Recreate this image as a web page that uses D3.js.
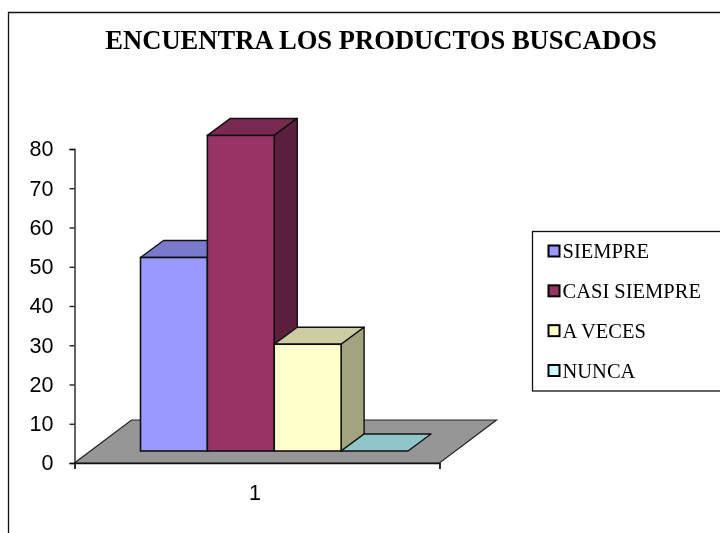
<!DOCTYPE html>
<html><head><meta charset="utf-8">
<script src="https://cdn.jsdelivr.net/npm/d3@7"></script>
<style>html,body{margin:0;background:#fff}svg{display:block;filter:blur(0.35px)}</style></head>
<body><svg id="c" width="720" height="533"></svg>
<script>
const titleText = "ENCUENTRA LOS PRODUCTOS BUSCADOS";
const seriesNames = ["SIEMPRE","CASI SIEMPRE","A VECES","NUNCA"];
const seriesValues = [49.3,80.4,27.2,0];
const yTicks = [0,10,20,30,40,50,60,70,80];
const categoryLabels = ["1"];
const frontColors = ["#9999FF","#993366","#FFFFCC","#CCFFFF"];
const topColors = ["#7A7ACC","#7A2952","#CCCCA3","#8FC6C9"];
const sideColors = ["#6B6BB3","#5C1F3D","#A3A37F","#8FC6C9"];

const svg = d3.select("#c");
const y = d3.scaleLinear().domain([0,80]).range([463,149]);
const xAxisScale = d3.scaleLinear().domain([0,1]).range([74.5,439.5]);
const catScale = d3.scalePoint().domain(categoryLabels).range([255,255]);
const floorDx = 57, floorDy = 43;
const offY = 12;   // front plane of the bars relative to the axes
const depthX = 23, depthY = 17;
const x = d3.scaleBand().domain(seriesNames).range([140.5,408]);
const stroke = "#111";

// chart frame (open on right and bottom, as cropped in the source)
svg.append("path").attr("d","M8.5,533V12.5H720").attr("fill","none").attr("stroke","#111").attr("stroke-width",1.3);

svg.append("text").attr("x",381).attr("y",48.5).attr("text-anchor","middle")
  .attr("font-family","'Liberation Serif',serif").attr("font-weight","bold").attr("font-size",26.6)
  .attr("fill","#000").text(titleText);

// floor
const x0 = xAxisScale(0), x1 = xAxisScale(1), yb = y(0);
svg.append("polygon")
  .attr("points",[[x0,yb],[x1,yb],[x1+floorDx,yb-floorDy],[x0+floorDx,yb-floorDy]].join(" "))
  .attr("fill","#969696").attr("stroke","#222").attr("stroke-width",1.2);

// axes
const yAxis = svg.append("g").attr("transform",`translate(${x0},0)`)
  .call(d3.axisLeft(y).tickValues(yTicks).tickSize(5).tickPadding(16));
yAxis.selectAll("text").attr("font-family","'Liberation Sans',sans-serif").attr("font-size",21.5).attr("fill","#000");
yAxis.selectAll("path,line").attr("stroke","#111").attr("stroke-width",1.3);

const xAxis = svg.append("g").attr("transform",`translate(0,${yb})`)
  .call(d3.axisBottom(xAxisScale).tickValues([0,1]).tickSize(6).tickFormat(""));
xAxis.selectAll("path,line").attr("stroke","#111").attr("stroke-width",1.3);
svg.selectAll(null).data(categoryLabels).join("text")
  .attr("x",d=>catScale(d)).attr("y",499.5).attr("text-anchor","middle")
  .attr("font-family","'Liberation Sans',sans-serif").attr("font-size",21.5).attr("fill","#000").text(d=>d);

// 3D bars, drawn left to right
const base = yb-offY;
const bars = svg.selectAll("g.bar").data(seriesNames).join("g").attr("class","bar");
bars.each(function(name,i){
  const g = d3.select(this), v = seriesValues[i];
  const l = x(name), r = l+x.bandwidth(), t = y(v)-offY;
  const dx = depthX, dy = depthY;
  g.append("polygon").attr("points",[[l,t],[r,t],[r+dx,t-dy],[l+dx,t-dy]].join(" "))
   .attr("fill",topColors[i]).attr("stroke",stroke).attr("stroke-width",1.4).attr("stroke-linejoin","round");
  if(v>0){
    g.append("polygon").attr("points",[[r,t],[r+dx,t-dy],[r+dx,base-dy],[r,base]].join(" "))
     .attr("fill",sideColors[i]).attr("stroke",stroke).attr("stroke-width",1.4).attr("stroke-linejoin","round");
    g.append("rect").attr("x",l).attr("y",t).attr("width",r-l).attr("height",base-t)
     .attr("fill",frontColors[i]).attr("stroke",stroke).attr("stroke-width",1.6);
  }
});

// legend
svg.append("rect").attr("x",532.5).attr("y",231.5).attr("width",200).attr("height",159.5)
  .attr("fill","#fff").attr("stroke","#111").attr("stroke-width",1.3);
const legendY = d3.scalePoint().domain(seriesNames).range([251,370.5]);
const leg = svg.selectAll("g.leg").data(seriesNames).join("g").attr("class","leg")
  .attr("transform",d=>`translate(0,${legendY(d)})`);
leg.append("rect").attr("x",548.5).attr("y",-5.5).attr("width",11).attr("height",11)
  .attr("fill",(d,i)=>frontColors[i]).attr("stroke","#000").attr("stroke-width",2);
leg.append("text").attr("x",562.5).attr("y",7)
  .attr("font-family","'Liberation Serif',serif").attr("font-size",20.5).attr("fill","#000").text(d=>d);
</script></body></html>
